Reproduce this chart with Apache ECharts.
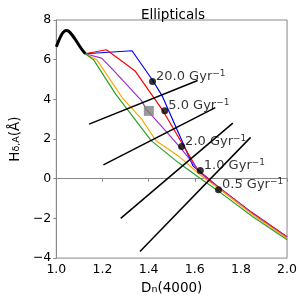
<!DOCTYPE html>
<html><head><meta charset="utf-8">
<script src="https://cdn.jsdelivr.net/npm/echarts@6/dist/echarts.min.js"></script>
<style>html,body{margin:0;padding:0;background:#fff}#c{width:300px;height:300px}</style>
</head><body><div id="c"></div>
<script>
const FONT = 'DejaVu Sans';
const xTicks = [1.0, 1.2, 1.4, 1.6, 1.8, 2.0];
const yTicks = [-4, -2, 0, 2, 4, 6, 8];

const blackX = [1.0, 1.01, 1.02, 1.03, 1.043, 1.055, 1.07, 1.085, 1.1, 1.113, 1.126];
const blackY = [6.65, 6.95, 7.2, 7.38, 7.47, 7.42, 7.22, 6.97, 6.7, 6.48, 6.3];

const blueX = [1.125, 1.328, 1.418, 1.46, 1.592, 1.70, 1.85, 2.0];
const blueY = [6.3, 6.45, 4.95, 4.15, 0.65, -0.4, -1.75, -2.95];
const redX = [1.125, 1.217, 1.314, 1.342, 1.458, 1.6125, 1.70, 1.85, 2.0];
const redY = [6.3, 6.5, 5.67, 5.42, 3.5, 0.45, -0.4, -1.72, -2.92];
const purpleX = [1.125, 1.196, 1.245, 1.37, 1.39, 1.467, 1.542, 1.633, 1.70, 1.85, 2.0];
const purpleY = [6.3, 6.08, 5.5, 3.92, 3.5, 2.5, 1.5, 0.2, -0.42, -1.75, -2.95];
const orangeX = [1.125, 1.175, 1.286, 1.37, 1.432, 1.529, 1.633, 1.70, 1.85, 2.0];
const orangeY = [6.3, 6.0, 4.08, 3.0, 1.92, 1.15, 0.1, -0.45, -1.8, -3.0];
const greenX = [1.125, 1.161, 1.258, 1.335, 1.411, 1.53, 1.62, 1.70, 1.85, 2.0];
const greenY = [6.3, 6.0, 4.25, 3.08, 1.92, 0.8, 0.05, -0.6, -1.9, -3.08];

const diagStartX = [1.142, 1.204, 1.279, 1.3625];
const diagStartY = [2.75, 0.7, -2.0, -3.67];
const diagEndX = [1.6125, 1.689, 1.765, 1.842];
const diagEndY = [4.95, 3.585, 2.8, 2.085];

const dotX = [1.417, 1.47, 1.543, 1.624, 1.703];
const dotY = [4.9, 3.42, 1.62, 0.42, -0.55];
const dotLabels = ['20.0 Gyr', '5.0 Gyr', '2.0 Gyr', '1.0 Gyr', '0.5 Gyr'];
const dotLabelExp = '\u22121';

const squareX = [1.401];
const squareY = [3.42];

const zip = (xs, ys) => xs.map((x, i) => [x, ys[i]]);
const trackColors = ['#0000ff', '#ff0000', '#9932cc', '#ffa500', '#2ca02c'];
const tracks = [[blueX, blueY], [redX, redY], [purpleX, purpleY], [orangeX, orangeY], [greenX, greenY]];

const series = [];
tracks.forEach((t, i) => {
  series.push({type: 'line', data: zip(t[0], t[1]), showSymbol: false, symbol: 'none',
    lineStyle: {color: trackColors[i], width: 1.2}, z: 3, silent: true});
});
series.push({type: 'line', data: zip(blackX, blackY), symbol: 'none', smooth: 0.3,
  lineStyle: {color: '#000', width: 3}, z: 4, silent: true});
diagStartX.forEach((x, i) => {
  series.push({type: 'line', data: [[x, diagStartY[i]], [diagEndX[i], diagEndY[i]]], symbol: 'none',
    lineStyle: {color: '#000', width: 1.5}, z: 4, silent: true});
});
series.push({type: 'scatter', data: zip(squareX, squareY), symbol: 'rect', symbolSize: 10,
  itemStyle: {color: '#808080'}, z: 5, silent: true});
series.push({type: 'scatter', data: dotX.map((x, i) => ({value: [x, dotY[i]], name: dotLabels[i]})),
  symbol: 'circle', symbolSize: 7, itemStyle: {color: '#000'}, z: 6, silent: true,
  label: {show: true, position: 'right', distance: 0, offset: [0, -5],
    formatter: p => '{a|' + p.name + '}{b|' + dotLabelExp + '}',
    rich: {a: {fontFamily: FONT, fontSize: 13, color: '#000', lineHeight: 15},
      b: {fontFamily: FONT, fontSize: 9, color: '#000', verticalAlign: 'top', lineHeight: 10}}}});

const chart = echarts.init(document.getElementById('c'), null, {renderer: 'canvas'});
chart.setOption({
  animation: false,
  backgroundColor: '#fff',
  title: {text: 'Ellipticals', left: 168, top: 3, textAlign: 'center',
    textStyle: {fontFamily: FONT, fontSize: 13.5, fontWeight: 'normal', color: '#000'}},
  grid: {left: 48, right: 12, top: 20, bottom: 40, show: true, borderColor: '#888', borderWidth: 1},
  xAxis: {type: 'value', min: xTicks[0], max: xTicks[xTicks.length - 1], interval: 0.2,
    name: '{m|D}{s|n}{m|(4000)}', nameLocation: 'middle', nameGap: 19,
    nameTextStyle: {rich: {m: {fontFamily: FONT, fontSize: 13.5, color: '#000'},
      s: {fontFamily: FONT, fontSize: 9.5, color: '#000', verticalAlign: 'bottom', lineHeight: 8}}},
    axisLine: {show: true, lineStyle: {color: '#888'}},
    axisTick: {show: true, length: 3, lineStyle: {color: '#888'}},
    splitLine: {show: false},
    axisLabel: {fontFamily: FONT, fontSize: 12.5, color: '#000', margin: 5,
      formatter: v => v.toFixed(1)}},
  yAxis: {type: 'value', min: yTicks[0], max: yTicks[yTicks.length - 1], interval: 2,
    name: '{m|H}{s|δ,A}{m|(Å)}', nameLocation: 'middle', nameGap: 27, nameRotate: 90,
    nameTextStyle: {rich: {m: {fontFamily: FONT, fontSize: 13.5, color: '#000'},
      s: {fontFamily: FONT, fontSize: 9.5, color: '#000', verticalAlign: 'bottom', lineHeight: 8}}},
    axisLine: {show: true, lineStyle: {color: '#888'}},
    axisTick: {show: true, length: 3, lineStyle: {color: '#888'}},
    splitLine: {show: false},
    axisLabel: {fontFamily: FONT, fontSize: 12.5, color: '#000', margin: 5,
      formatter: v => String(v).replace('-', '\u2212')}},
  series: series
});
</script></body></html>
